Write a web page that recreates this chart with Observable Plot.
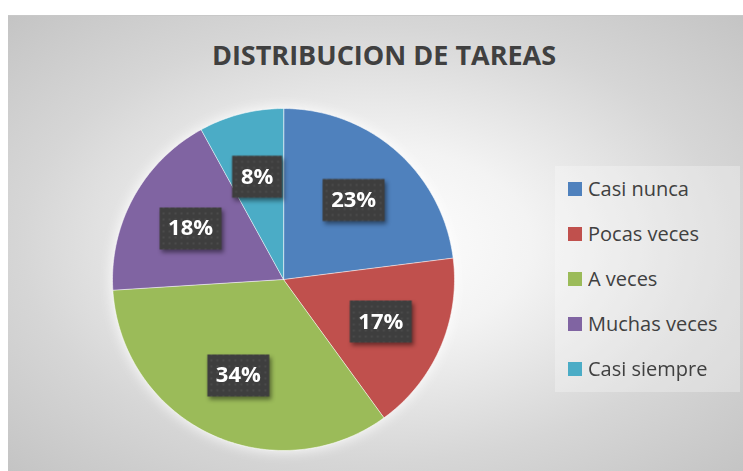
<!DOCTYPE html>
<html>
<head>
<meta charset="utf-8">
<script src="https://cdn.jsdelivr.net/npm/d3@7"></script>
<script src="https://cdn.jsdelivr.net/npm/@observablehq/plot@0.6"></script>
<style>
  html, body { margin: 0; padding: 0; background: #ffffff; }
  #chart {
    position: absolute; left: 8px; top: 15px; width: 735px; height: 456px;
    background: radial-gradient(farthest-corner at 50% 50%, #ffffff 0%, #f3f3f3 30%, #d6d6d6 68%, #c4c4c4 100%);
    border-top: 1px solid #c8c8c8;
    box-sizing: border-box;
    overflow: hidden;
  }
  #chart > svg { position: absolute; left: 0; top: -1px; }
  #chart g[aria-label="line"] { filter: drop-shadow(0 0 7px rgba(255,255,255,0.95)); }
  #chart g[aria-label="dot"] { filter: drop-shadow(2px 3px 2px rgba(0,0,0,0.45)); }
  #legend {
    position: absolute; left: 547px; top: 150px; width: 185px; height: 226px;
    background: rgba(255,255,255,0.28);
    padding-left: 13px; box-sizing: border-box;
  }
  #legend .lg-swatches { font: 20px "Open Sans", sans-serif !important; color: #404040 !important; margin: 0 !important; columns: auto !important; }
  #legend .lg-swatch { display: flex !important; align-items: center !important; height: 45px !important; padding: 0 !important; margin: 0 !important; }
  #legend .lg-swatch > svg { margin-right: 6px !important; flex-shrink: 0; }
</style>
</head>
<body>
<div id="chart"><div id="legend"></div></div>
<script>
const title = "DISTRIBUCION DE TAREAS";
const categories = ["Casi nunca", "Pocas veces", "A veces", "Muchas veces", "Casi siempre"];
const values = [23, 17, 34, 18, 8];
const colors = ["#4F81BD", "#C0504D", "#9BBB59", "#8064A2", "#4BACC6"];

// layout
const cx = 275, cy = 264, R = 171;

const arcs = d3.pie().sort(null).value(d => d)(values);

const slicePoints = [];
arcs.forEach((a, i) => {
  const cat = categories[i];
  slicePoints.push({cat, x: 0, y: 0});
  const n = Math.max(2, Math.ceil((a.endAngle - a.startAngle) / (Math.PI / 180)));
  for (let k = 0; k <= n; ++k) {
    const t = a.startAngle + (a.endAngle - a.startAngle) * k / n;
    slicePoints.push({cat, x: Math.sin(t), y: -Math.cos(t)});
  }
});

const labelR = 0.62;
const labelData = arcs.map((a, i) => {
  const m = (a.startAngle + a.endAngle) / 2;
  const label = values[i] + "%";
  return {cat: categories[i], label, x: labelR * Math.sin(m), y: -labelR * Math.cos(m), half: (38 + 12 * (label.length - 1)) / 2};
});

const boxSymbol = {
  draw(context, size) {
    const r = Math.sqrt(size / Math.PI);
    context.rect(-r, -21, 2 * r, 42);
  }
};

const defsMark = () => {
  const defs = d3.create("svg:defs");
  const p = defs.append("pattern").attr("id", "dots").attr("width", 6).attr("height", 6).attr("patternUnits", "userSpaceOnUse");
  p.append("rect").attr("width", 6).attr("height", 6).attr("fill", "#3e3e3e");
  p.append("circle").attr("cx", 3).attr("cy", 3).attr("r", 1).attr("fill", "#505050");
  return defs.node();
};

const chart = Plot.plot({
  width: 735,
  height: 456,
  margin: 0,
  x: {domain: [-1, 1], range: [cx - R, cx + R], axis: null},
  y: {domain: [-1, 1], range: [cy - R, cy + R], axis: null},
  r: {type: "identity"},
  color: {domain: categories, range: colors},
  style: {background: "transparent", overflow: "visible"},
  marks: [
    defsMark,
    Plot.line(slicePoints, {x: "x", y: "y", z: "cat", fill: "cat", stroke: "white", strokeWidth: 1, strokeOpacity: 0.55, curve: "linear-closed"}),
    Plot.dot(labelData, {x: "x", y: "y", r: "half", symbol: boxSymbol, fill: "url(#dots)", stroke: "none"}),
    Plot.text(labelData, {x: "x", y: "y", text: "label", fill: "white", fontSize: 22, fontWeight: "bold", fontFamily: "Open Sans", lineAnchor: "middle"}),
    Plot.text([title], {frameAnchor: "top", dx: 8, dy: 41, lineAnchor: "middle", text: d => d, fontSize: 27, fontWeight: "bold", fontFamily: "Open Sans", fill: "#404040"})
  ]
});
document.getElementById("chart").insertBefore(chart, document.getElementById("legend"));

const legend = Plot.legend({
  color: {domain: categories, range: colors},
  legend: "swatches",
  columns: 1,
  swatchSize: 14,
  className: "lg"
});
document.getElementById("legend").appendChild(legend);
</script>
</body>
</html>
